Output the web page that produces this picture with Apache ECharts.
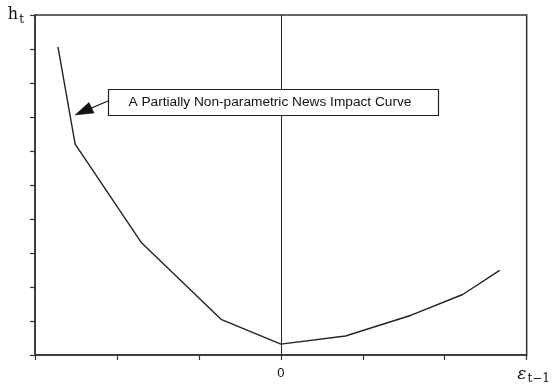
<!DOCTYPE html>
<html>
<head>
<meta charset="utf-8">
<script src="https://cdn.jsdelivr.net/npm/echarts@6/dist/echarts.min.js"></script>
<style>html,body{margin:0;padding:0;background:#fff}#c{width:553px;height:385px}</style>
</head>
<body>
<div id="c"></div>
<script>
// Data (x = lagged shock, y = conditional variance, arbitrary units)
var shockX = [-2.72, -2.51, -1.70, -0.73, 0.0, 0.79, 1.59, 2.22, 2.67];
var varianceY = [9.06, 6.20, 3.30, 1.05, 0.32, 0.56, 1.17, 1.78, 2.49];
var xTickLabels = {"0": "0"};
var annotationText = "A Partially Non-parametric News Impact Curve";

var chart = echarts.init(document.getElementById('c'), null, {renderer: 'canvas'});
var lineColor = '#222';
var option = {
  animation: false,
  backgroundColor: '#fff',
  grid: {left: 35, right: 25, top: 15, bottom: 28, show: true, borderColor: '#333', borderWidth: 1.5, backgroundColor: 'transparent'},
  xAxis: {
    type: 'value', min: -3, max: 3, interval: 1,
    axisLine: {show: true, onZero: false, lineStyle: {color: '#333', width: 1.5}},
    axisTick: {show: true, inside: false, length: 5, lineStyle: {color: '#333', width: 1.2}},
    axisLabel: {show: true, color: '#111', fontFamily: 'Liberation Sans', fontSize: 13, margin: 12,
      formatter: function (v) { return xTickLabels[String(v)] || ''; }},
    splitLine: {show: false},
    name: '{e|ε}{s|t−1}',
    nameLocation: 'end',
    nameGap: 0,
    nameTextStyle: {
      align: 'center', verticalAlign: 'top', padding: [9, 0, 0, 14],
      rich: {
        e: {fontFamily: 'DejaVu Serif', fontStyle: 'italic', fontSize: 17, color: '#111'},
        s: {fontFamily: 'DejaVu Serif', fontSize: 12, color: '#111', padding: [9, 0, 0, 1]}
      }
    }
  },
  yAxis: {
    type: 'value', min: 0, max: 10, interval: 1,
    axisLine: {show: true, onZero: false, lineStyle: {color: '#333', width: 1.5}},
    axisTick: {show: true, inside: false, length: 5, lineStyle: {color: '#333', width: 1.2}},
    axisLabel: {show: false},
    splitLine: {show: false},
    name: '{h|h}{s|t}',
    nameLocation: 'end',
    nameGap: 0,
    nameTextStyle: {
      align: 'right', verticalAlign: 'middle', padding: [0, 11, 0, 0],
      rich: {
        h: {fontFamily: 'DejaVu Serif', fontSize: 16, color: '#111'},
        s: {fontFamily: 'DejaVu Serif', fontSize: 12, color: '#111', padding: [9, 0, 0, 1]}
      }
    }
  },
  series: [{
    type: 'line',
    data: shockX.map(function (x, i) { return [x, varianceY[i]]; }),
    symbol: 'none',
    lineStyle: {color: lineColor, width: 1.4},
    markLine: {
      silent: true, symbol: 'none', label: {show: false},
      lineStyle: {color: '#222', width: 1, type: 'solid'},
      data: [{xAxis: 0}]
    }
  }],
  graphic: [
    {type: 'rect', shape: {x: 108.5, y: 89.5, width: 330, height: 26},
     style: {fill: '#fff', stroke: '#222', lineWidth: 1.2}, z: 10},
    {type: 'text', x: 270, y: 102.5,
     style: {text: annotationText, fill: '#111', font: '13.7px "Liberation Sans", Arial, sans-serif', align: 'center', verticalAlign: 'middle'}, z: 11},
    {type: 'line', shape: {x1: 108, y1: 101, x2: 88, y2: 109.5}, style: {stroke: '#111', lineWidth: 1.2}, z: 11},
    {type: 'polygon', shape: {points: [[75, 115], [89, 102.5], [94, 113]]}, style: {fill: '#111', stroke: '#111', lineWidth: 0.5}, z: 11}
  ]
};
chart.setOption(option);
</script>
</body>
</html>
